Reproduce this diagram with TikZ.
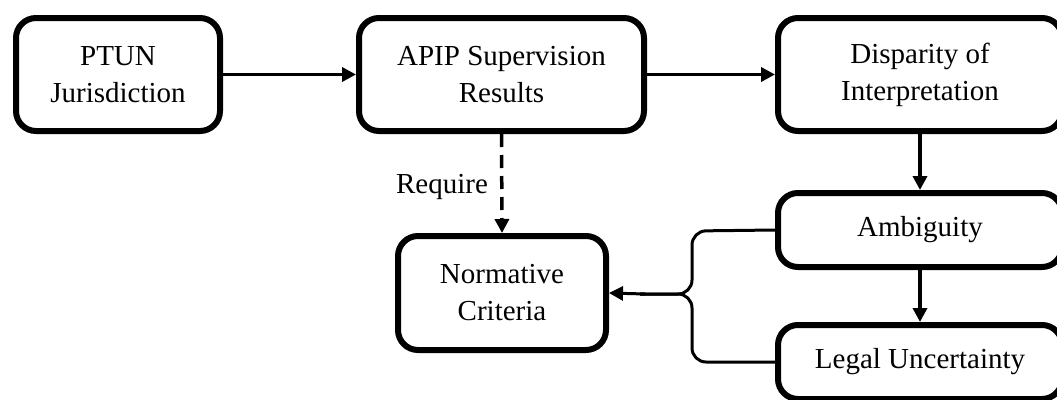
\documentclass[tikz,border=0pt]{standalone}
\usepackage{fontspec}
\setmainfont{Liberation Serif}
\usetikzlibrary{arrows.meta}
\begin{document}
\begin{tikzpicture}[x=1pt,y=-1pt,
  box/.style={draw, line width=6pt, rounded corners=20pt, align=center,
    font=\fontsize{29}{37}\selectfont, inner sep=0pt},
  conn/.style={line width=3.5pt, -{Triangle[length=14pt,width=14pt]}},
  dconn/.style={conn, dash pattern=on 13pt off 8pt},
  brace/.style={line width=3pt, rounded corners=14pt},
  lbl/.style={font=\fontsize{29}{37}\selectfont, inner sep=0pt}]
\useasboundingbox (0,0) rectangle (1057,399);
\clip (0,0) rectangle (1057,399);
\node[box, minimum width=204pt, minimum height=113pt] (ptun) at (118,74.5) {PTUN\\Jurisdiction};
\node[box, minimum width=285pt, minimum height=113pt] (apip) at (501.5,74.5) {APIP Supervision\\Results};
\node[box, minimum width=284pt, minimum height=113pt] (disp) at (920,74.5) {Disparity of\\Interpretation};
\node[box, minimum width=208pt, minimum height=114pt] (norm) at (502,293) {Normative\\Criteria};
\node[box, minimum width=284pt, minimum height=74pt] (amb) at (920,230) {Ambiguity};
\node[box, minimum width=284pt, minimum height=74pt] (legal) at (920,362) {Legal Uncertainty};
\node[lbl, anchor=base] (req) at (442,193) {Require};
\draw[conn] (ptun.east) -- (apip.west);
\draw[conn] (apip.east) -- (disp.west);
\draw[conn] (disp.south) -- (amb.north);
\draw[conn] (amb.south) -- (legal.north);
\draw[dconn] (apip.south) -- (norm.north);
\coordinate (bt) at (692,231);
\coordinate (bm) at (692,294);
\coordinate (bb) at (692,362);
\draw[brace] (amb.west) -- (bt) -- (bm) -- (640,294);
\draw[brace] (legal.west) -- (bb) -- (bm) -- (640,294);
\draw[conn, line width=3pt] (645,294) -- (norm.east);
\end{tikzpicture}
\end{document}
